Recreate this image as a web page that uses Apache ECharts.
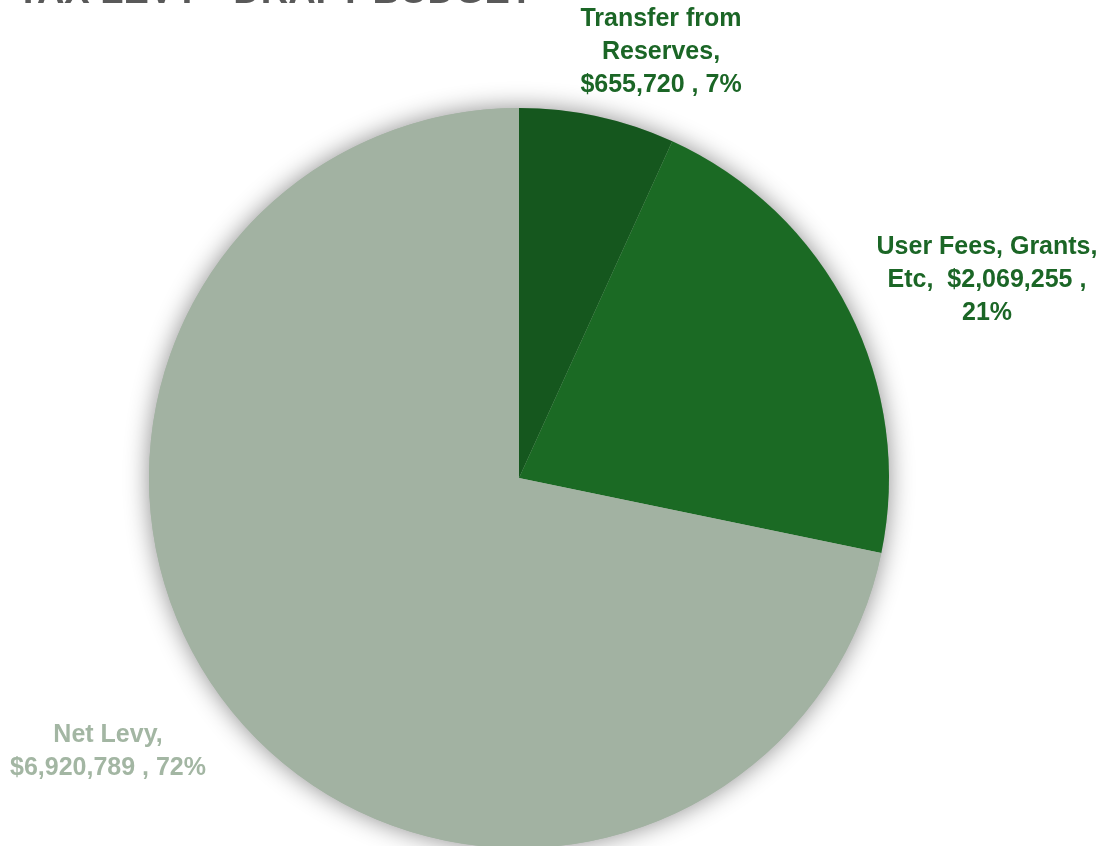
<!DOCTYPE html>
<html>
<head>
<meta charset="utf-8">
<script src="https://cdn.jsdelivr.net/npm/echarts@6/dist/echarts.min.js"></script>
<style>
  html, body { margin: 0; padding: 0; background: #ffffff; }
  #chart { width: 1104px; height: 846px; }
</style>
</head>
<body>
<div id="chart"></div>
<script>
// Budget revenue sources
const categories = ['Transfer from\nReserves', 'User Fees, Grants,\nEtc', 'Net Levy'];
const amounts = [655720, 2069255, 6920789];
const percents = [7, 21, 72];
const sliceColors = ['#15571e', '#1b6a24', '#a2b2a2'];
const labelColors = ['#1b6626', '#1b6626', '#a3b6a3'];
const titleText = 'COUNTY TAX LEVY - DRAFT BUDGET';

// label anchor points (centre of each text block)
const labelAnchors = [[661, 52], [987, 280], [108, 752]];

const fmt = v => '$' + v.toLocaleString('en-US');
const total = amounts.reduce((a, b) => a + b, 0);

// how each label breaks across lines
function labelText(i) {
  const name = categories[i];
  if (i === 0) return name + ',\n' + fmt(amounts[i]) + ' , ' + percents[i] + '%';
  if (i === 1) return name + ',  ' + fmt(amounts[i]) + ' ,\n' + percents[i] + '%';
  return name + ',\n' + fmt(amounts[i]) + ' , ' + percents[i] + '%';
}

const chart = echarts.init(document.getElementById('chart'), null, { renderer: 'canvas' });
const center = [519, 478];
const radius = 370;

chart.setOption({
  animation: false,
  backgroundColor: '#ffffff',
  graphic: [{
    type: 'text',
    right: 1104 - 533,
    top: -26,
    style: {
      text: titleText,
      font: 'bold 38px "Liberation Sans", Arial, sans-serif',
      fill: '#595959'
    }
  }],
  series: [
    {
      // soft drop shadow behind the whole pie
      type: 'pie',
      silent: true,
      center: center,
      radius: radius,
      label: { show: false },
      labelLine: { show: false },
      data: [{ value: total, itemStyle: { color: '#a2b2a2', shadowBlur: 24, shadowColor: 'rgba(0,0,0,0.45)', shadowOffsetX: 0, shadowOffsetY: 0 } }],
      z: 1
    },
    {
      type: 'pie',
      center: center,
      radius: radius,
      startAngle: 90,
      clockwise: true,
      z: 2,
      itemStyle: { borderWidth: 0 },
      labelLine: { show: false },
      label: {
        show: true,
        position: 'outside',
        fontFamily: '"Liberation Sans", Arial, sans-serif',
        fontWeight: 'bold',
        fontSize: 25,
        lineHeight: 33,
        align: 'center',
        overflow: 'none',
        width: 400,
        formatter: p => labelText(p.dataIndex)
      },
      labelLayout: p => ({
        x: labelAnchors[p.dataIndex][0],
        y: labelAnchors[p.dataIndex][1],
        align: 'center',
        verticalAlign: 'middle'
      }),
      data: categories.map((c, i) => ({
        name: c,
        value: amounts[i],
        itemStyle: { color: sliceColors[i] },
        label: { color: labelColors[i] }
      }))
    }
  ]
});
</script>
</body>
</html>
